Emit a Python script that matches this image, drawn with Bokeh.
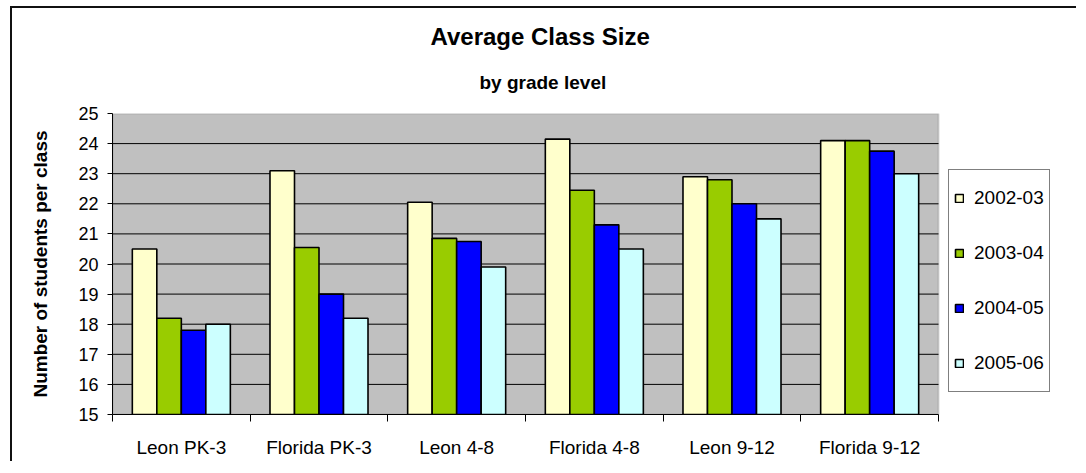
from bokeh.plotting import figure
from bokeh.models import (ColumnDataSource, Range1d, FixedTicker, Legend, LegendItem, Title,
                          BoxAnnotation)
from bokeh.transform import dodge
from bokeh.embed import file_html
from bokeh.resources import INLINE

categories = ["Leon PK-3", "Florida PK-3", "Leon 4-8", "Florida 4-8", "Leon 9-12", "Florida 9-12"]
years = ["2002-03", "2003-04", "2004-05", "2005-06"]
v2002 = [20.5, 23.1, 22.05, 24.15, 22.9, 24.1]
v2003 = [18.2, 20.55, 20.85, 22.45, 22.8, 24.1]
v2004 = [17.8, 19.0, 20.75, 21.3, 22.0, 23.75]
v2005 = [18.0, 18.2, 19.9, 20.5, 21.5, 23.0]
colors = ["#FFFFCC", "#99CC00", "#0000FF", "#CCFFFF"]
y_ticks = list(range(15, 26))

FONT = "Liberation Sans"
n = len(categories)
YMIN, YMAX = y_ticks[0], y_ticks[-1]

src = ColumnDataSource(dict(
    xc=[i + 0.5 for i in range(n)],
    y2002=v2002, y2003=v2003, y2004=v2004, y2005=v2005,
))

# frame is extended to the right so that the legend can sit inside it
p = figure(width=1066, height=455, output_backend="svg", toolbar_location=None,
           x_range=Range1d(0, n * 948 / 826), y_range=Range1d(YMIN, YMAX),
           min_border_left=100, min_border_right=18, min_border_top=105, min_border_bottom=49)
p.styles = {"margin-left": "10px", "margin-top": "6px",
            "border-left": "2px solid #111", "border-top": "2px solid #111"}

p.background_fill_color = "white"
p.border_fill_color = "white"
p.outline_line_color = None

# plot area (grey) with its thin grey border
p.add_layout(BoxAnnotation(left=0, right=n, bottom=YMIN, top=YMAX, fill_color="#C0C0C0",
                           fill_alpha=1, line_color="#808080", line_width=2, level="underlay"))

# titles
p.title.text = "Average Class Size"
p.title.align = "left"
p.title.offset = 318
p.title.text_font = FONT
p.title.text_font_size = "24px"
p.title.text_font_style = "bold"
p.title.text_color = "black"
p.title.standoff = 0
sub = Title(text="by grade level", align="left", offset=367, text_font=FONT,
            text_font_size="19px", text_font_style="bold", text_color="black", standoff=41)
p.add_layout(sub, "above")

# horizontal grid lines across the plot area only
grid_y = y_ticks[1:-1]
p.segment(x0=[0] * len(grid_y), x1=[n] * len(grid_y), y0=grid_y, y1=grid_y,
          line_color="black", line_width=1)

bw = 0.178
offs = [-1.5 * bw, -0.5 * bw, 0.5 * bw, 1.5 * bw]
cols = ["y2002", "y2003", "y2004", "y2005"]
items = []
for c, o, col, yr in zip(cols, offs, colors, years):
    r = p.vbar(x=dodge("xc", o, range=p.x_range), top=c, bottom=YMIN, width=bw, source=src,
               fill_color=col, line_color="black", line_width=1.6)
    items.append(LegendItem(label=yr, renderers=[r]))

legend = Legend(items=items, location=(836, 22), orientation="vertical",
                label_text_font=FONT, label_text_font_size="19px", label_text_color="black",
                glyph_width=10, glyph_height=10, label_height=46, spacing=9,
                padding=5, margin=0, border_line_color="black", border_line_width=1,
                background_fill_color="white", background_fill_alpha=1, label_standoff=10)
p.add_layout(legend, "center")

# y axis
p.yaxis.ticker = FixedTicker(ticks=y_ticks)
p.yaxis.major_label_text_font = FONT
p.yaxis.major_label_text_font_size = "18px"
p.yaxis.major_label_text_color = "black"
p.yaxis.major_tick_out = 5
p.yaxis.major_tick_in = 0
p.yaxis.minor_tick_line_color = None
p.yaxis.axis_line_color = "black"
p.yaxis.major_tick_line_color = "black"
p.yaxis.major_label_standoff = 9
p.yaxis.axis_label = "Number of students per class"
p.yaxis.axis_label_text_font = FONT
p.yaxis.axis_label_text_font_size = "19px"
p.yaxis.axis_label_text_font_style = "bold"
p.yaxis.axis_label_text_color = "black"
p.yaxis.axis_label_standoff = 24

# x axis: labels at category centres, ticks at category boundaries
p.xaxis.bounds = (0, n)
p.xaxis.ticker = FixedTicker(ticks=[i + 0.5 for i in range(n)],
                             minor_ticks=list(range(n + 1)))
p.xaxis.major_label_overrides = {i + 0.5: c for i, c in enumerate(categories)}
p.xaxis.major_label_text_font = FONT
p.xaxis.major_label_text_font_size = "19px"
p.xaxis.major_label_text_color = "black"
p.xaxis.major_tick_line_color = None
p.xaxis.major_tick_out = 7
p.xaxis.major_tick_in = 0
p.xaxis.minor_tick_out = 7
p.xaxis.minor_tick_in = 0
p.xaxis.minor_tick_line_color = "black"
p.xaxis.axis_line_color = "black"
p.xaxis.major_label_standoff = 15

p.xgrid.grid_line_color = None
p.ygrid.grid_line_color = None

open("out.html", "w").write(file_html(p, INLINE))
